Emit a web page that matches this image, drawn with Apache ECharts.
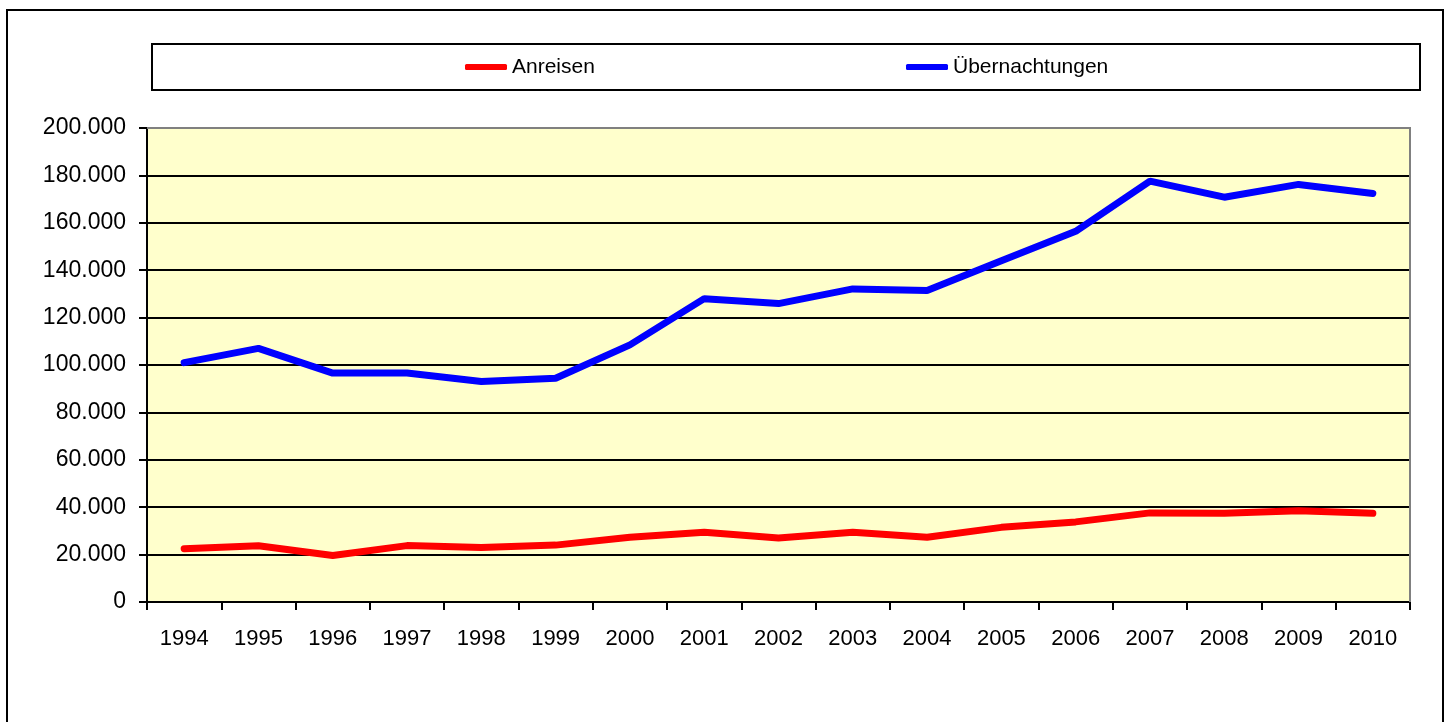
<!DOCTYPE html>
<html>
<head>
<meta charset="utf-8">
<script src="https://cdn.jsdelivr.net/npm/echarts@6/dist/echarts.min.js"></script>
<style>
html,body{margin:0;padding:0;background:#fff;}
#c{width:1450px;height:722px;}
</style>
</head>
<body>
<div id="c"></div>
<script>
const years = ['1994','1995','1996','1997','1998','1999','2000','2001','2002','2003','2004','2005','2006','2007','2008','2009','2010'];
const anreisen = [22500,23700,19600,23800,23000,24000,27300,29400,27000,29400,27300,31500,33800,37600,37400,38500,37400];
const uebernachtungen = [101000,107000,96600,96600,93000,94400,108500,128000,125900,132100,131400,144000,156400,177600,170800,176200,172400];
const yTicks = {min:0, max:200000, interval:20000};

const fmt = v => v === 0 ? '0' : String(v).replace(/\B(?=(\d{3})+(?!\d))/g, '.');
const font = 'Liberation Sans, Arial, sans-serif';

const chart = echarts.init(document.getElementById('c'));
chart.setOption({
  animation:false,
  backgroundColor:'#fff',
  graphic:[
    {type:'rect', shape:{x:7,y:10,width:1436,height:730}, style:{fill:'none',stroke:'#000',lineWidth:2}, z:0},
    {type:'rect', shape:{x:152,y:44,width:1268,height:46}, style:{fill:'#fff',stroke:'#000',lineWidth:2}, z:0},
    {type:'polyline', shape:{points:[[147,128],[1410,128],[1410,602]]}, style:{fill:'none',stroke:'#808080',lineWidth:2}, z:2}
  ],
  legend:[
    {data:['Anreisen'], left:465, top:56, padding:0, itemWidth:42, itemHeight:6, icon:'roundRect',
     textStyle:{fontFamily:font,fontSize:21,color:'#000',lineHeight:22}, z:5},
    {data:['Übernachtungen'], left:906, top:56, padding:0, itemWidth:42, itemHeight:6, icon:'roundRect',
     textStyle:{fontFamily:font,fontSize:21,color:'#000',lineHeight:22}, z:5}
  ],
  grid:{left:147, right:40, top:128, bottom:120, show:true, backgroundColor:'#FFFFCC', borderColor:'#808080', borderWidth:2},
  xAxis:{
    type:'category', data:years, boundaryGap:true,
    axisLine:{lineStyle:{color:'#000',width:2}},
    axisTick:{show:true, alignWithLabel:false, length:8, lineStyle:{color:'#000',width:2}},
    axisLabel:{color:'#000', fontFamily:font, fontSize:22, margin:26, interval:0},
    splitLine:{show:false}
  },
  yAxis:{
    type:'value', min:yTicks.min, max:yTicks.max, interval:yTicks.interval,
    axisLine:{show:true, lineStyle:{color:'#000',width:2}},
    axisTick:{show:true, length:8, lineStyle:{color:'#000',width:2}},
    axisLabel:{color:'#000', fontFamily:font, fontSize:23, margin:21, formatter:fmt, padding:[5,0,0,0]},
    splitLine:{show:true, lineStyle:{color:'#000',width:2}}
  },
  series:[
    {name:'Anreisen', type:'line', data:anreisen, showSymbol:false, symbol:'none', color:'#FF0000',
     lineStyle:{width:7,color:'#FF0000',cap:'round'}, z:3},
    {name:'Übernachtungen', type:'line', data:uebernachtungen, showSymbol:false, symbol:'none', color:'#0000FF',
     lineStyle:{width:7,color:'#0000FF',cap:'round'}, z:3}
  ]
});
</script>
</body>
</html>
